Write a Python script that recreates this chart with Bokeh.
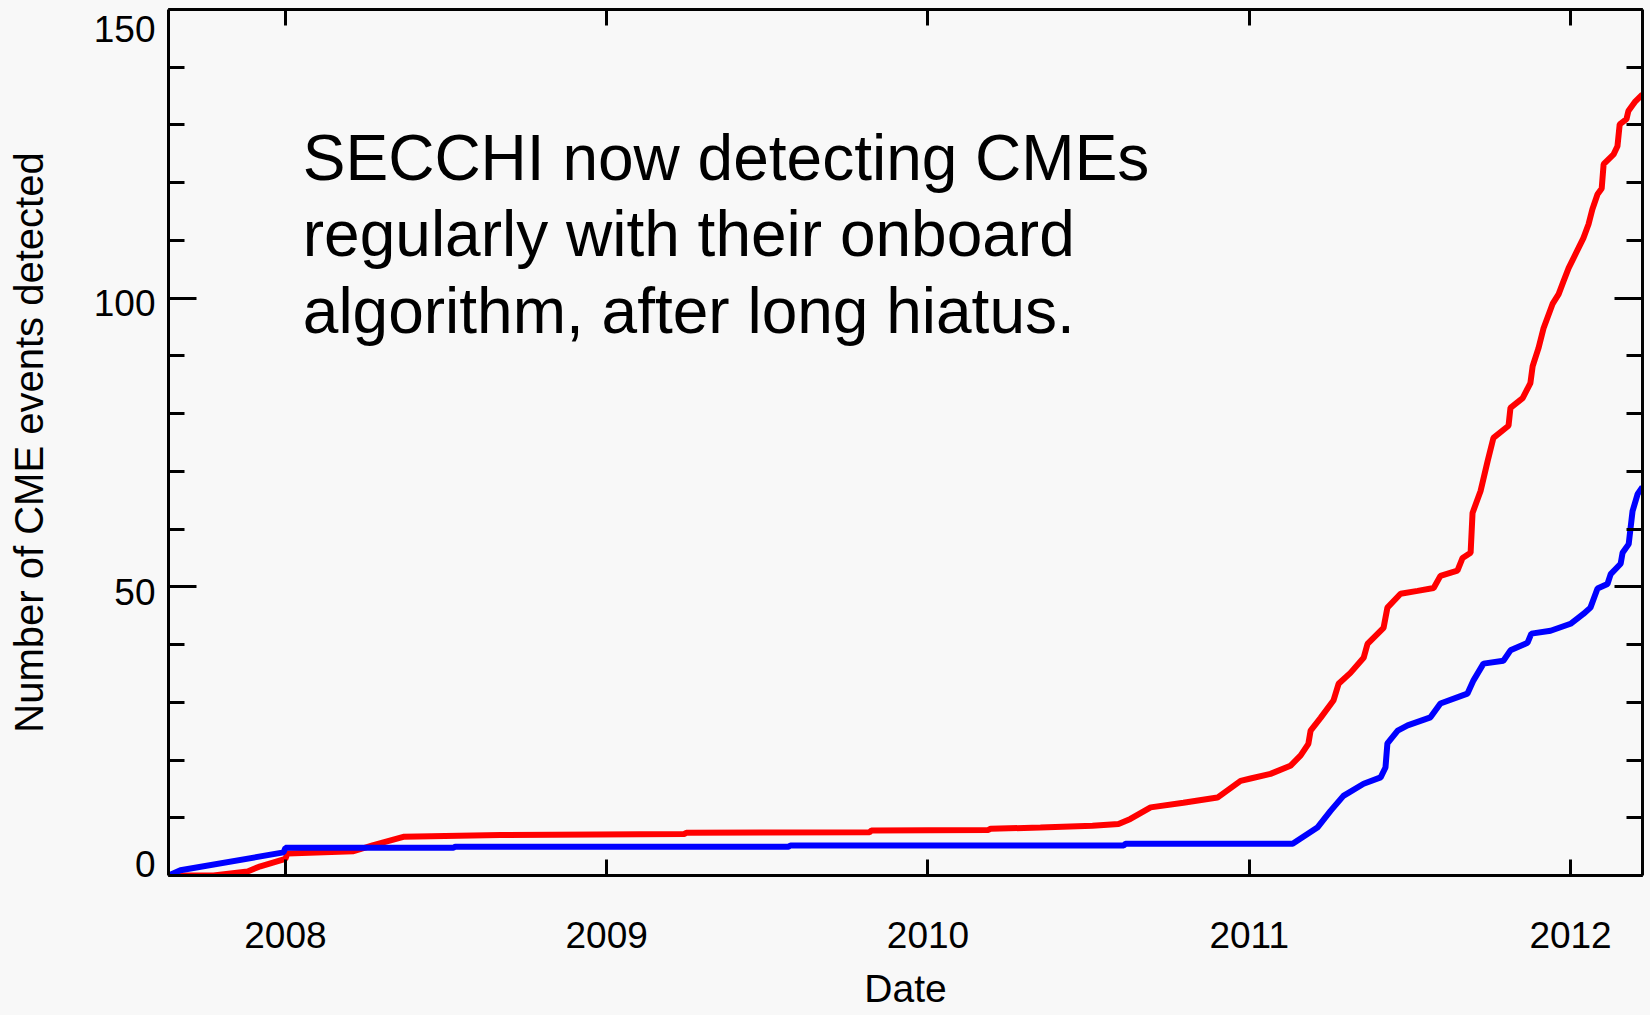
from bokeh.plotting import figure
from bokeh.models import Range1d, LinearAxis, FixedTicker, SingleIntervalTicker, CustomJSTickFormatter, Label
from bokeh.embed import file_html
from bokeh.resources import INLINE

# ---- data (decimal years, cumulative number of CME events) ----
red_year = [2007.636, 2007.776, 2007.882, 2007.922, 2008.000, 2008.006, 2008.212, 2008.271,
            2008.367, 2008.669, 2009.242, 2009.248, 2009.818, 2009.824, 2010.188, 2010.195,
            2010.350, 2010.512, 2010.593, 2010.630, 2010.693, 2010.795, 2010.901, 2010.973,
            2011.004, 2011.066, 2011.128, 2011.160, 2011.184, 2011.191, 2011.222, 2011.262,
            2011.278, 2011.315, 2011.356, 2011.368, 2011.418, 2011.430, 2011.471, 2011.524,
            2011.574, 2011.595, 2011.648, 2011.664, 2011.689, 2011.695, 2011.720, 2011.742,
            2011.760, 2011.807, 2011.813, 2011.851, 2011.875, 2011.882, 2011.900, 2011.916,
            2011.944, 2011.963, 2011.978, 2011.994, 2012.009, 2012.025, 2012.040, 2012.056,
            2012.068, 2012.084, 2012.097, 2012.103, 2012.134, 2012.146, 2012.153, 2012.174,
            2012.180, 2012.202, 2012.224]
red_count = [0.0, 0.0, 0.7, 1.6, 2.9, 3.8, 4.2, 5.2,
             6.7, 7.0, 7.2, 7.4, 7.5, 7.8, 7.9, 8.1,
             8.3, 8.6, 8.9, 9.8, 11.8, 12.6, 13.5, 16.4,
             16.8, 17.6, 19.0, 20.8, 22.8, 25.1, 27.3, 30.3,
             33.2, 35.1, 37.7, 40.1, 42.9, 46.4, 48.8, 49.3,
             49.8, 51.9, 52.8, 55.0, 55.9, 62.8, 66.6, 71.8,
             75.8, 77.9, 81.0, 82.7, 85.3, 88.2, 91.3, 94.8,
             99.0, 100.7, 102.9, 105.2, 106.9, 108.7, 110.4, 112.8,
             115.4, 118.0, 119.0, 123.2, 124.9, 126.3, 130.1, 131.0,
             132.4, 134.1, 135.3]

blue_year = [2007.636, 2007.673, 2007.994, 2008.000, 2008.523, 2008.529, 2009.566, 2009.572,
             2010.609, 2010.615, 2011.135, 2011.212, 2011.253, 2011.293, 2011.356, 2011.409,
             2011.424, 2011.430, 2011.462, 2011.493, 2011.564, 2011.595, 2011.679, 2011.698,
             2011.729, 2011.791, 2011.813, 2011.866, 2011.878, 2011.938, 2012.000, 2012.040,
             2012.062, 2012.084, 2012.115, 2012.125, 2012.156, 2012.162, 2012.181, 2012.193,
             2012.209, 2012.224]
blue_count = [0.0, 0.9, 4.0, 4.8, 4.8, 5.0, 5.0, 5.2,
              5.2, 5.5, 5.5, 8.3, 11.2, 13.8, 15.9, 17.0,
              18.7, 22.9, 25.1, 26.0, 27.4, 29.8, 31.5, 33.8,
              36.7, 37.2, 39.0, 40.3, 41.9, 42.4, 43.6, 45.3,
              46.4, 49.7, 50.5, 52.2, 54.0, 55.9, 57.4, 63.1,
              66.1, 67.3]

year_ticks = [2008, 2009, 2010, 2011, 2012]
year_labels = ["2008", "2009", "2010", "2011", "2012"]
count_ticks = [0, 50, 100, 150]
count_step = 50
x_start, x_end = 2007.636, 2012.224
y_start, y_end = 0, 150

note_text = "SECCHI now detecting CMEs\nregularly with their onboard\nalgorithm, after long hiatus."
x_title = "Date"
y_title = "Number of CME events detected"

# ---- styling ----
BG = "#f8f8f8"
FONT = "Liberation Sans"
TICK_FS = "37px"
W, H = 1650, 1015
B_LEFT, B_RIGHT, B_TOP, B_BOTTOM = 168, 8, 9, 140
px_per_unit = (H - B_TOP - B_BOTTOM) / (y_end - y_start)

p = figure(width=W, height=H, output_backend="svg", toolbar_location=None,
           x_range=Range1d(x_start, x_end), y_range=Range1d(y_start, y_end),
           x_axis_location=None, y_axis_location=None,
           min_border_left=B_LEFT, min_border_right=B_RIGHT,
           min_border_top=B_TOP, min_border_bottom=B_BOTTOM,
           background_fill_color=BG, border_fill_color=BG, outline_line_color=None)
p.grid.visible = False

blank = CustomJSTickFormatter(code="return '';")


def style_axis(ax, major_len, minor_len, title_size="38px"):
    ax.axis_line_color = "black"
    ax.axis_line_width = 3
    ax.major_tick_line_color = "black"
    ax.major_tick_line_width = 3
    ax.minor_tick_line_color = "black"
    ax.minor_tick_line_width = 3
    ax.major_tick_in = major_len
    ax.major_tick_out = 0
    ax.minor_tick_in = minor_len
    ax.minor_tick_out = 0
    ax.major_label_text_font = FONT
    ax.major_label_text_font_size = TICK_FS
    ax.major_label_text_color = "black"
    ax.axis_label_text_font = FONT
    ax.axis_label_text_font_size = title_size
    ax.axis_label_text_font_style = "normal"
    ax.axis_label_text_color = "black"


# bottom axis (ticks, year labels, title)
xb = LinearAxis(ticker=FixedTicker(ticks=year_ticks, minor_ticks=[]),
                major_label_overrides={t: l for t, l in zip(year_ticks, year_labels)},
                axis_label=x_title)
style_axis(xb, 16, 0, "39px")
xb.major_label_standoff = 46
xb.axis_label_standoff = 16
p.add_layout(xb, "below")

# top axis (ticks only)
xt = LinearAxis(ticker=FixedTicker(ticks=year_ticks, minor_ticks=[]), formatter=blank)
style_axis(xt, 16, 0)
xt.major_label_text_font_size = "1px"
xt.major_label_standoff = 0
p.add_layout(xt, "above")

# left axis: tick marks only (innermost)
yl = LinearAxis(ticker=SingleIntervalTicker(interval=count_step, num_minor_ticks=5), formatter=blank)
style_axis(yl, 28, 16)
yl.major_label_text_font_size = "1px"
yl.major_label_standoff = 0
p.add_layout(yl, "left")


# left axis: numbers + title (IDL style: end labels nudged inside the axis span)
def label_shift(v):
    if v == max(count_ticks):
        return 19
    if v == min(count_ticks):
        return -12
    return 5


label_pos = [v - label_shift(v) / px_per_unit for v in count_ticks]
yn = LinearAxis(ticker=FixedTicker(ticks=label_pos, minor_ticks=[]),
                formatter=CustomJSTickFormatter(args=dict(step=count_step),
                                                code="return String(Math.round(tick / step) * step);"),
                axis_label=y_title)
style_axis(yn, 0, 0, "40px")
yn.axis_line_color = None
yn.major_tick_line_color = None
yn.minor_tick_line_color = None
yn.major_label_standoff = 13
yn.axis_label_standoff = 40
p.add_layout(yn, "left")

# right axis (ticks only)
yr = LinearAxis(ticker=SingleIntervalTicker(interval=count_step, num_minor_ticks=5), formatter=blank)
style_axis(yr, 28, 16)
yr.major_label_text_font_size = "1px"
yr.major_label_standoff = 0
p.add_layout(yr, "right")

# curves
p.line(red_year, red_count, line_color="#ff0000", line_width=6)
p.line(blue_year, blue_count, line_color="#0000ff", line_width=6)

# annotation
p.add_layout(Label(x=2008.054, y=130.5, text=note_text, text_align="left", text_baseline="top",
                   text_font=FONT, text_font_size="64px", text_line_height=1.06,
                   text_color="black"))

html = file_html(p, INLINE)
html = html.replace("<head>", "<head><style>html, body { background: #f8f8f8; }</style>", 1)
open("out.html", "w").write(html)
